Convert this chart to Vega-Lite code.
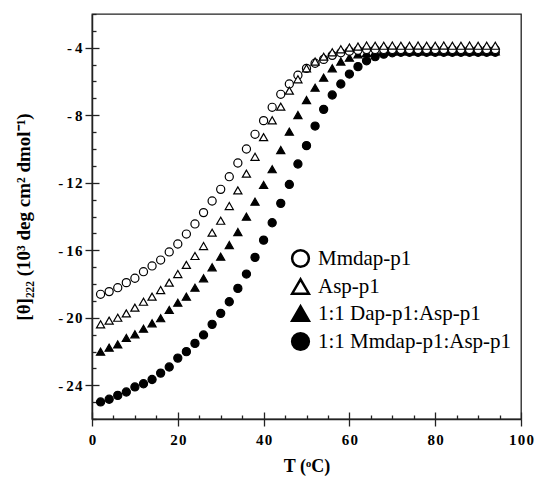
{
  "$schema": "https://vega.github.io/schema/vega-lite/v6.json",
  "width": 429,
  "height": 405,
  "autosize": {"type": "none"},
  "padding": {"left": 92, "top": 14, "right": 14, "bottom": 60},
  "background": "white",
  "config": {"view": {"stroke": "#222", "strokeWidth": 1.3}, "font": "Liberation Serif"},
  "data": {"values": [
    {"T": 2, "Mmdap-p1": -18.61, "Asp-p1": -20.39, "1:1 Dap-p1:Asp-p1": -22.01, "1:1 Mmdap-p1:Asp-p1": -24.99},
    {"T": 4, "Mmdap-p1": -18.45, "Asp-p1": -20.17, "1:1 Dap-p1:Asp-p1": -21.77, "1:1 Mmdap-p1:Asp-p1": -24.83},
    {"T": 6, "Mmdap-p1": -18.22, "Asp-p1": -20.0, "1:1 Dap-p1:Asp-p1": -21.58, "1:1 Mmdap-p1:Asp-p1": -24.6},
    {"T": 8, "Mmdap-p1": -17.92, "Asp-p1": -19.74, "1:1 Dap-p1:Asp-p1": -21.2, "1:1 Mmdap-p1:Asp-p1": -24.4},
    {"T": 10, "Mmdap-p1": -17.66, "Asp-p1": -19.4, "1:1 Dap-p1:Asp-p1": -20.98, "1:1 Mmdap-p1:Asp-p1": -24.1},
    {"T": 12, "Mmdap-p1": -17.27, "Asp-p1": -19.05, "1:1 Dap-p1:Asp-p1": -20.65, "1:1 Mmdap-p1:Asp-p1": -23.91},
    {"T": 14, "Mmdap-p1": -16.93, "Asp-p1": -18.75, "1:1 Dap-p1:Asp-p1": -20.33, "1:1 Mmdap-p1:Asp-p1": -23.66},
    {"T": 16, "Mmdap-p1": -16.58, "Asp-p1": -18.36, "1:1 Dap-p1:Asp-p1": -20.03, "1:1 Mmdap-p1:Asp-p1": -23.28},
    {"T": 18, "Mmdap-p1": -16.1, "Asp-p1": -17.92, "1:1 Dap-p1:Asp-p1": -19.54, "1:1 Mmdap-p1:Asp-p1": -22.92},
    {"T": 20, "Mmdap-p1": -15.63, "Asp-p1": -17.41, "1:1 Dap-p1:Asp-p1": -19.11, "1:1 Mmdap-p1:Asp-p1": -22.39},
    {"T": 22, "Mmdap-p1": -15.04, "Asp-p1": -16.87, "1:1 Dap-p1:Asp-p1": -18.75, "1:1 Mmdap-p1:Asp-p1": -22.01},
    {"T": 24, "Mmdap-p1": -14.44, "Asp-p1": -16.34, "1:1 Dap-p1:Asp-p1": -18.22, "1:1 Mmdap-p1:Asp-p1": -21.52},
    {"T": 26, "Mmdap-p1": -13.77, "Asp-p1": -15.75, "1:1 Dap-p1:Asp-p1": -17.66, "1:1 Mmdap-p1:Asp-p1": -21.02},
    {"T": 28, "Mmdap-p1": -13.08, "Asp-p1": -14.96, "1:1 Dap-p1:Asp-p1": -17.01, "1:1 Mmdap-p1:Asp-p1": -20.39},
    {"T": 30, "Mmdap-p1": -12.39, "Asp-p1": -14.25, "1:1 Dap-p1:Asp-p1": -16.38, "1:1 Mmdap-p1:Asp-p1": -19.74},
    {"T": 32, "Mmdap-p1": -11.64, "Asp-p1": -13.38, "1:1 Dap-p1:Asp-p1": -15.69, "1:1 Mmdap-p1:Asp-p1": -19.05},
    {"T": 34, "Mmdap-p1": -10.83, "Asp-p1": -12.45, "1:1 Dap-p1:Asp-p1": -14.92, "1:1 Mmdap-p1:Asp-p1": -18.26},
    {"T": 36, "Mmdap-p1": -10.0, "Asp-p1": -11.46, "1:1 Dap-p1:Asp-p1": -14.01, "1:1 Mmdap-p1:Asp-p1": -17.41},
    {"T": 38, "Mmdap-p1": -9.13, "Asp-p1": -10.46, "1:1 Dap-p1:Asp-p1": -13.12, "1:1 Mmdap-p1:Asp-p1": -16.42},
    {"T": 40, "Mmdap-p1": -8.32, "Asp-p1": -9.3, "1:1 Dap-p1:Asp-p1": -12.13, "1:1 Mmdap-p1:Asp-p1": -15.4},
    {"T": 42, "Mmdap-p1": -7.53, "Asp-p1": -8.3, "1:1 Dap-p1:Asp-p1": -11.2, "1:1 Mmdap-p1:Asp-p1": -14.37},
    {"T": 44, "Mmdap-p1": -6.76, "Asp-p1": -7.49, "1:1 Dap-p1:Asp-p1": -10.06, "1:1 Mmdap-p1:Asp-p1": -13.22},
    {"T": 46, "Mmdap-p1": -6.15, "Asp-p1": -6.54, "1:1 Dap-p1:Asp-p1": -8.97, "1:1 Mmdap-p1:Asp-p1": -12.1},
    {"T": 48, "Mmdap-p1": -5.63, "Asp-p1": -5.87, "1:1 Dap-p1:Asp-p1": -7.99, "1:1 Mmdap-p1:Asp-p1": -10.89},
    {"T": 50, "Mmdap-p1": -5.22, "Asp-p1": -5.22, "1:1 Dap-p1:Asp-p1": -7.1, "1:1 Mmdap-p1:Asp-p1": -9.8},
    {"T": 52, "Mmdap-p1": -4.92, "Asp-p1": -4.82, "1:1 Dap-p1:Asp-p1": -6.37, "1:1 Mmdap-p1:Asp-p1": -8.64},
    {"T": 54, "Mmdap-p1": -4.69, "Asp-p1": -4.53, "1:1 Dap-p1:Asp-p1": -5.77, "1:1 Mmdap-p1:Asp-p1": -7.65},
    {"T": 56, "Mmdap-p1": -4.45, "Asp-p1": -4.27, "1:1 Dap-p1:Asp-p1": -5.22, "1:1 Mmdap-p1:Asp-p1": -6.8},
    {"T": 58, "Mmdap-p1": -4.3, "Asp-p1": -4.09, "1:1 Dap-p1:Asp-p1": -4.82, "1:1 Mmdap-p1:Asp-p1": -6.15},
    {"T": 60, "Mmdap-p1": -4.2, "Asp-p1": -3.99, "1:1 Dap-p1:Asp-p1": -4.59, "1:1 Mmdap-p1:Asp-p1": -5.56},
    {"T": 62, "Mmdap-p1": -4.15, "Asp-p1": -3.93, "1:1 Dap-p1:Asp-p1": -4.39, "1:1 Mmdap-p1:Asp-p1": -5.12},
    {"T": 64, "Mmdap-p1": -4.1, "Asp-p1": -3.87, "1:1 Dap-p1:Asp-p1": -4.3, "1:1 Mmdap-p1:Asp-p1": -4.77},
    {"T": 66, "Mmdap-p1": -4.1, "Asp-p1": -3.88, "1:1 Dap-p1:Asp-p1": -4.25, "1:1 Mmdap-p1:Asp-p1": -4.53},
    {"T": 68, "Mmdap-p1": -4.1, "Asp-p1": -3.88, "1:1 Dap-p1:Asp-p1": -4.22, "1:1 Mmdap-p1:Asp-p1": -4.38},
    {"T": 70, "Mmdap-p1": -4.1, "Asp-p1": -3.87, "1:1 Dap-p1:Asp-p1": -4.22, "1:1 Mmdap-p1:Asp-p1": -4.3},
    {"T": 72, "Mmdap-p1": -4.1, "Asp-p1": -3.88, "1:1 Dap-p1:Asp-p1": -4.22, "1:1 Mmdap-p1:Asp-p1": -4.27},
    {"T": 74, "Mmdap-p1": -4.1, "Asp-p1": -3.88, "1:1 Dap-p1:Asp-p1": -4.22, "1:1 Mmdap-p1:Asp-p1": -4.27},
    {"T": 76, "Mmdap-p1": -4.1, "Asp-p1": -3.87, "1:1 Dap-p1:Asp-p1": -4.22, "1:1 Mmdap-p1:Asp-p1": -4.27},
    {"T": 78, "Mmdap-p1": -4.1, "Asp-p1": -3.88, "1:1 Dap-p1:Asp-p1": -4.22, "1:1 Mmdap-p1:Asp-p1": -4.27},
    {"T": 80, "Mmdap-p1": -4.1, "Asp-p1": -3.88, "1:1 Dap-p1:Asp-p1": -4.22, "1:1 Mmdap-p1:Asp-p1": -4.27},
    {"T": 82, "Mmdap-p1": -4.1, "Asp-p1": -3.87, "1:1 Dap-p1:Asp-p1": -4.22, "1:1 Mmdap-p1:Asp-p1": -4.27},
    {"T": 84, "Mmdap-p1": -4.1, "Asp-p1": -3.88, "1:1 Dap-p1:Asp-p1": -4.22, "1:1 Mmdap-p1:Asp-p1": -4.27},
    {"T": 86, "Mmdap-p1": -4.1, "Asp-p1": -3.88, "1:1 Dap-p1:Asp-p1": -4.22, "1:1 Mmdap-p1:Asp-p1": -4.27},
    {"T": 88, "Mmdap-p1": -4.1, "Asp-p1": -3.87, "1:1 Dap-p1:Asp-p1": -4.22, "1:1 Mmdap-p1:Asp-p1": -4.27},
    {"T": 90, "Mmdap-p1": -4.1, "Asp-p1": -3.88, "1:1 Dap-p1:Asp-p1": -4.22, "1:1 Mmdap-p1:Asp-p1": -4.27},
    {"T": 92, "Mmdap-p1": -4.1, "Asp-p1": -3.88, "1:1 Dap-p1:Asp-p1": -4.22, "1:1 Mmdap-p1:Asp-p1": -4.27},
    {"T": 94, "Mmdap-p1": -4.1, "Asp-p1": -3.88, "1:1 Dap-p1:Asp-p1": -4.22, "1:1 Mmdap-p1:Asp-p1": -4.27}
  ]},
  "transform": [
    {"fold": ["1:1 Mmdap-p1:Asp-p1", "1:1 Dap-p1:Asp-p1", "Mmdap-p1", "Asp-p1"], "as": ["series", "theta"]}
  ],
  "resolve": {"axis": {"x": "independent", "y": "independent"}},
  "layer": [
    {
      "mark": {"type": "point", "filled": false, "opacity": 1, "strokeWidth": 1.2, "size": 66},
      "encoding": {
        "x": {
          "field": "T", "type": "quantitative",
          "scale": {"domain": [0, 100], "nice": false, "zero": false},
          "axis": {
            "orient": "bottom",
            "values": [0, 5, 10, 15, 20, 25, 30, 35, 40, 45, 50, 55, 60, 65, 70, 75, 80, 85, 90, 95, 100],
            "labelExpr": "datum.value % 20 === 0 ? join(split(datum.label, ''), '\u200a') : ''",
            "labelFont": "Liberation Serif", "labelFontWeight": "bold", "labelFontSize": 15, "labelColor": "black",
            "labelPadding": 6, "labelOverlap": false, "labelFlush": false,
            "tickSize": {"condition": {"test": "datum.value % 20 === 0", "value": 7}, "value": -4},
            "tickColor": "#222", "tickWidth": 1.3, "domainColor": "#222", "domainWidth": 1.5,
            "grid": false,
            "title": "T (ᵒC)", "titleFont": "Liberation Serif", "titleFontSize": 18, "titleFontWeight": "bold", "titleColor": "black", "titlePadding": 10
          }
        },
        "y": {
          "field": "theta", "type": "quantitative",
          "scale": {"domain": [-26, -2], "nice": false, "zero": false},
          "axis": {
            "orient": "left",
            "values": [-26, -25, -24, -23, -22, -21, -20, -19, -18, -17, -16, -15, -14, -13, -12, -11, -10, -9, -8, -7, -6, -5, -4, -3, -2],
            "labelExpr": "datum.value % 4 === 0 ? '-\u2009' + join(split('' + abs(datum.value), ''), '\u200a') : ''",
            "labelFont": "Liberation Serif", "labelFontWeight": "bold", "labelFontSize": 15, "labelColor": "black",
            "labelPadding": 3, "labelOverlap": false, "labelFlush": false,
            "tickSize": {"condition": {"test": "datum.value % 4 === 0", "value": 7}, "value": -4},
            "tickColor": "#222", "tickWidth": 1.3, "domainColor": "#222", "domainWidth": 1.5,
            "grid": false,
            "title": "[θ]₂₂₂ (10³ deg cm² dmol⁻¹)", "titleFont": "Liberation Serif", "titleFontSize": 19, "titleFontWeight": "bold", "titleColor": "black", "titlePadding": 24
          }
        },
        "shape": {
          "field": "series", "type": "nominal",
          "scale": {"domain": ["Mmdap-p1", "Asp-p1", "1:1 Dap-p1:Asp-p1", "1:1 Mmdap-p1:Asp-p1"], "range": ["circle", "triangle-up", "triangle-up", "circle"]},
          "legend": {
            "orient": "none", "legendX": 198, "legendY": 234, "title": null,
            "labelFont": "Liberation Serif", "labelFontSize": 21, "labelColor": "black", "labelLimit": 400,
            "labelExpr": "datum.label == 'Asp-p1' ? '\u2002Asp-p1' : datum.label",
            "symbolSize": 280, "symbolStrokeWidth": 2.5,
            "rowPadding": 2, "labelOffset": 7
          }
        },
        "fill": {
          "field": "series", "type": "nominal",
          "scale": {"domain": ["Mmdap-p1", "Asp-p1", "1:1 Dap-p1:Asp-p1", "1:1 Mmdap-p1:Asp-p1"], "range": ["white", "white", "black", "black"]},
          "legend": {
            "orient": "none", "legendX": 198, "legendY": 234, "title": null,
            "labelFont": "Liberation Serif", "labelFontSize": 21, "labelColor": "black", "labelLimit": 400,
            "labelExpr": "datum.label == 'Asp-p1' ? '\u2002Asp-p1' : datum.label",
            "symbolSize": 280, "symbolStrokeWidth": 2.5,
            "rowPadding": 2, "labelOffset": 7
          }
        },
        "stroke": {
          "field": "series", "type": "nominal",
          "scale": {"domain": ["Mmdap-p1", "Asp-p1", "1:1 Dap-p1:Asp-p1", "1:1 Mmdap-p1:Asp-p1"], "range": ["black", "black", "black", "black"]},
          "legend": {
            "orient": "none", "legendX": 198, "legendY": 234, "title": null,
            "labelFont": "Liberation Serif", "labelFontSize": 21, "labelColor": "black", "labelLimit": 400,
            "labelExpr": "datum.label == 'Asp-p1' ? '\u2002Asp-p1' : datum.label",
            "symbolSize": 280, "symbolStrokeWidth": 2.5,
            "rowPadding": 2, "labelOffset": 7
          }
        }
      }
    },
    {
      "mark": {"type": "point", "opacity": 0},
      "encoding": {
        "x": {
          "field": "T", "type": "quantitative",
          "axis": {
            "orient": "bottom", "values": [0, 20, 40, 60, 80, 100], "labels": false, "domain": false, "grid": false,
            "tickSize": -7, "tickColor": "#222", "tickWidth": 1.3, "title": null
          }
        },
        "y": {
          "field": "theta", "type": "quantitative",
          "axis": {
            "orient": "left", "values": [-24, -20, -16, -12, -8, -4], "labels": false, "domain": false, "grid": false,
            "tickSize": -7, "tickColor": "#222", "tickWidth": 1.3, "title": null
          }
        }
      }
    }
  ]
}
